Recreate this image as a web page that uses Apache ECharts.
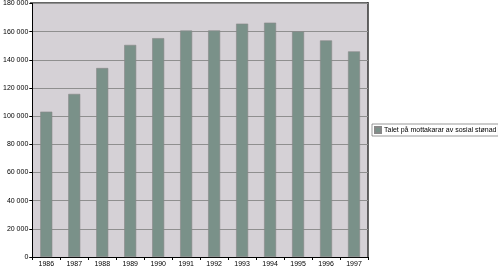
<!DOCTYPE html>
<html><head><meta charset="utf-8">
<script src="https://cdn.jsdelivr.net/npm/echarts@6/dist/echarts.min.js"></script>
<style>html,body{margin:0;padding:0;background:#fff}#c{width:498px;height:270px}</style>
</head><body><div id="c"></div>
<script>
const categories = ['1986','1987','1988','1989','1990','1991','1992','1993','1994','1995','1996','1997'];
const values = [103200, 115800, 134200, 150600, 155400, 160800, 160900, 165700, 166400, 160200, 153800, 146000];
const seriesName = 'Talet på mottakarar av sosial stønad';
const yTicks = {min: 0, max: 180000, interval: 20000};

const chart = echarts.init(document.getElementById('c'));
const font = 'Liberation Sans, Arial, sans-serif';
chart.setOption({
  animation: false,
  grid: {left: 30, right: 130, top: 3, bottom: 13, backgroundColor: '#d5d1d6', show: true, borderWidth: 0},
  legend: {
    data: [{name: seriesName, icon: 'rect'}], left: 372, top: 124, itemWidth: 6, itemHeight: 6, itemGap: 2,
    padding: [2, 2, 2, 2], borderColor: '#555', borderWidth: 0.6,
    textStyle: {fontFamily: font, fontSize: 7, color: '#000', padding: [0,0,0,-2]}
  },
  xAxis: {
    type: 'category', data: categories,
    axisLine: {lineStyle: {color: '#000', width: 1}},
    axisTick: {show: true, alignWithLabel: false, length: 3, lineStyle: {color: '#000'}},
    axisLabel: {fontFamily: font, fontSize: 7, color: '#000', margin: 4}
  },
  yAxis: [{
    type: 'value', min: yTicks.min, max: yTicks.max, interval: yTicks.interval,
    axisLine: {show: true, lineStyle: {color: '#000', width: 1}},
    axisTick: {show: true, length: 3, lineStyle: {color: '#000'}},
    splitLine: {lineStyle: {color: '#8f8f8f', width: 1}},
    axisLabel: {fontFamily: font, fontSize: 7, color: '#000', margin: 4,
      formatter: v => v === 0 ? '0' : String(v).replace(/\B(?=(\d{3})+(?!\d))/g, ' ')}
  }],
  series: [{
    name: seriesName, type: 'bar', data: values, barWidth: 12,
    itemStyle: {color: '#7a9189', borderColor: '#888', borderWidth: 0.6}
  }],
  graphic: [
    {type: 'line', shape: {x1: 30, y1: 3, x2: 368, y2: 3}, style: {stroke: '#666', lineWidth: 2}},
    {type: 'line', shape: {x1: 368, y1: 2, x2: 368, y2: 257}, style: {stroke: '#333', lineWidth: 1.5}}
  ]
});
</script></body></html>
